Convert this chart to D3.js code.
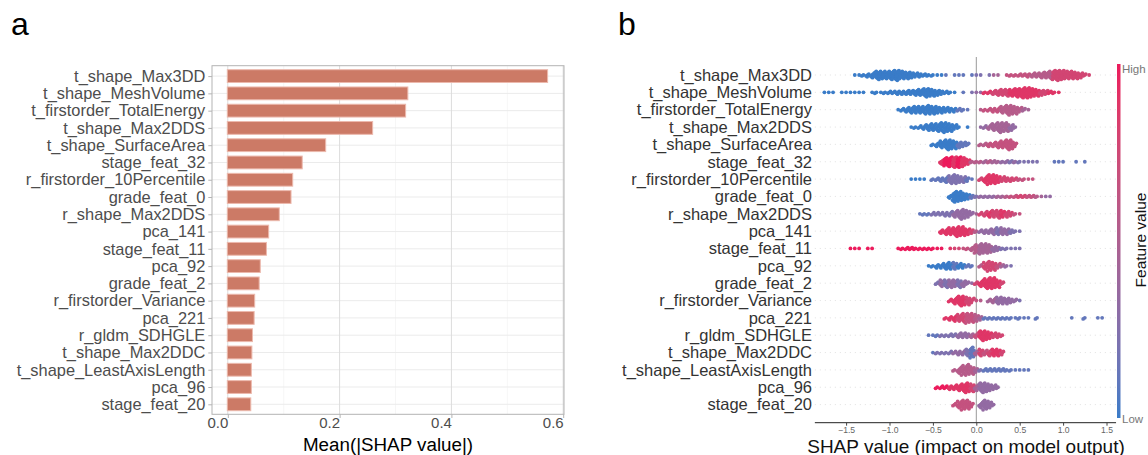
<!DOCTYPE html>
<html>
<head>
<meta charset="utf-8">
<script src="https://cdn.jsdelivr.net/npm/d3@7"></script>
<style>
  body { margin: 0; background: #fff; }
  text { font-family: "Liberation Sans", Arial, sans-serif; }
</style>
</head>
<body>
<svg id="chart" width="1148" height="455"></svg>
<script>
// ---- panel a: mean |SHAP| per feature ----
const barFeatures = ['t_shape_Max3DD', 't_shape_MeshVolume', 't_firstorder_TotalEnergy', 't_shape_Max2DDS',
  't_shape_SurfaceArea', 'stage_feat_32', 'r_firstorder_10Percentile', 'grade_feat_0', 'r_shape_Max2DDS',
  'pca_141', 'stage_feat_11', 'pca_92', 'grade_feat_2', 'r_firstorder_Variance', 'pca_221', 'r_gldm_SDHGLE',
  't_shape_Max2DDC', 't_shape_LeastAxisLength', 'pca_96', 'stage_feat_20'];
const meanAbsShap = [0.573, 0.323, 0.319, 0.260, 0.176, 0.134, 0.117, 0.114, 0.093, 0.074, 0.070, 0.059,
  0.057, 0.049, 0.048, 0.045, 0.044, 0.043, 0.043, 0.042];
const barTicks = [0, 0.2, 0.4, 0.6];
const barMinorTicks = [0.1, 0.3, 0.5];

// ---- panel b: beeswarm, binned counts (bin width 0.05) and feature-value colour per bin (0 low .. 9 high) ----
const swarmFeatures = barFeatures;
const swarmTicks = [-1.5, -1.0, -0.5, 0.0, 0.5, 1.0, 1.5];
const binWidth = 0.05;
const swarmStart = [-1.40, -1.75, -0.90, -0.75, -0.50, -0.40, -0.75, -0.30, -0.65, -0.40,
  -1.45, -0.55, -0.45, -0.30, -0.35, -0.55, -0.50, -0.25, -0.45, -0.25];
const swarmCounts = [
  [1,1,2,4,6,9,10,9,9,11,12,9,8,7,5,4,3,2,2,1,1, 1,0,1,1,1,0,1,1,1,0,1,1,1,0, 1,2,2,3,3,4,5,5,6,7,9,11,12,11,9,9,8,6,3,1],
  [1,1,1,0,1,1,1,1,1,1, 0,1,2,1,2,3,3,4,4,5,5,6,7,9,10,8,6,4,3,2,1,0, 1,0,1,1,1,2,3,5,6,7,8,8,9,10,12,12,10,8,6,5,3,2,1],
  [1,3,5,6,7,7,8,9,8,7,6,5,4,4,3,2,1, 0,0, 1,2,3,4,5,7,9,10,8,5,3,1],
  [1,2,3,5,6,7,8,9,10,8,5,2, 0,1,0,0, 1,3,5,7,9,10,9,6,2],
  [2,4,7,9,10,8,6,5,3, 0,0, 2,3,4,5,6,7,9,10,4],
  [6,11,13,14,14,12,7, 2,2,2,3,3,3,2, 2,3,3,2,2,1,1,1,1, 0,0,0,1,1,1,0,0,1,0,1],
  [1,1,1,1,0,2,3,4,6,8,9,7,6,4,1,0, 3,6,10,9,7,5,4,4,3,2,2,1,1],
  [4,14,13,10,7,4, 2,2,2,2,2,2,2,2, 2,3,3,3,3,3, 2,1,1,1],
  [1,2,2,3,3,3,4,5,6,8,10,7,3,1, 3,5,6,7,8,7,6,4,2,1],
  [4,6,7,8,10,9,6,4,2, 3,4,5,6,7,7,6,4,2,1],
  [1,1,1,0,1,1,0,0,0,0,0,1,2,3,3,2,2,2,2,2,1,1, 0,1,1,1,1,2, 4,10,12,11,10,6, 4,2,2,1,1,1],
  [1,2,4,5,6,7,7,5,4,3,2,0, 3,7,10,8,5,3,2,1],
  [3,7,8,8,7,8,6,3,1, 3,6,9,11,11,8,3],
  [3,6,9,10,8,5,1,1,0, 3,5,7,7,6,4,3,1],
  [2,4,6,7,9,10,9,7, 4, 2,2,2,2,2,2,2,1,2,1,1,0,2,0,0,0,0,0,0,0,1,0,0,2,0,0,1,1],
  [1,1,2,2,2,3,3,5,5,4,4, 5,9,10,7,5,4,2],
  [1,2,2,2,3,3,4,5,7,11, 4,7,5,6,7,7,4],
  [2,6,10,11,8,4, 2,3,3,3,3,3,2,2,1,1,1,1],
  [2,3,3,4,5,6,8,10,8, 6,9,10,7,5,2],
  [3,7,10,9,4, 0, 6,10,7,2]
];
const swarmColors = [
  [0,0,0,0,0,0,0,0,0,0,0,0,0,0,0,0,0,0,0,0,0, 1,1,1,1,1,1,1,2,2,2,2,4,4,4, 6,6,6,6,6,6,5,5,5,5,5,7,7,7,7,7,7,7,7,7],
  [0,0,0,0,0,0,0,0,0,0, 0,0,0,0,0,0,0,0,0,0,0,0,0,0,0,0,0,0,0,0,0,0, 1,1,2,3,3,8,8,7,7,7,7,8,8,8,8,8,8,8,7,7,8,8,8],
  [0,0,0,0,0,0,0,0,0,0,0,0,0,0,1,1,1, 0,0, 5,6,6,6,6,5,5,5,5,5,4,4],
  [0,0,0,0,0,0,0,0,0,0,0,0, 0,0,0,0, 3,3,4,4,4,4,4,3,3],
  [0,0,0,0,0,0,1,1,1, 0,0, 5,5,6,6,6,6,6,6,6],
  [8,9,9,8,9,8,8, 5,5,5,4,5,4,4, 3,3,2,3,2,2,2,2,2, 1,1,1,1,1,1,1,1,1,1,1],
  [0,0,0,0,0,1,1,1,1,2,2,2,2,1,1,0, 7,8,8,8,8,7,7,7,7,6,6,6,6],
  [0,0,0,0,0,1, 2,3,3,3,3,4,4,5, 6,6,7,7,6,6, 5,4,3,3],
  [1,1,1,2,2,2,2,2,3,3,3,3,3,4, 7,7,8,7,7,8,7,7,6,6],
  [8,8,8,8,8,8,8,7,5, 3,3,3,3,2,3,3,2,2,2],
  [9,9,9,9,9,9,9,9,9,9,9,9,9,9,9,9,9,9,9,9,9,9, 8,8,7,7,6,6, 5,5,4,4,4,3, 3,2,2,2,2,2],
  [0,0,0,0,0,0,1,0,0,1,1,0, 5,7,7,7,6,4,3,2],
  [2,3,2,3,3,2,3,3,3, 7,8,8,8,8,8,7],
  [8,8,8,8,7,7,6,5,0, 4,4,3,3,3,3,3,2],
  [8,8,8,7,7,6,6,5, 4, 1,1,1,1,1,1,1,1,1,1,1,1,1,1,1,1,1,1,1,1,1,1,1,1,1,1,1,1],
  [1,1,1,2,2,2,2,3,3,3,4, 6,8,8,8,7,7,7],
  [1,2,2,2,2,3,3,3,2,1, 4,7,6,7,8,8,7],
  [5,5,5,5,5,4, 2,1,1,1,1,1,1,1,1,1,1,1],
  [9,9,9,8,8,8,8,8,7, 4,3,3,3,3,3],
  [6,6,6,6,6, 0, 3,3,3,3]
];

const svg = d3.select('#chart');
svg.append('rect').attr('width', 1148).attr('height', 455).attr('fill', '#fff');

// ================= panel a =================
const panelA = { left: 212, right: 564, top: 65.7, bottom: 414.3 };
const xBar = d3.scaleLinear().domain([0, 0.6]).range([227.8, 563.2]);
const yBar = d3.scalePoint().domain(barFeatures).range([76.1, 404.3]);

const gA = svg.append('g');

gA.selectAll('.minor')
  .data(barMinorTicks)
  .enter().append('line')
  .attr('x1', d => xBar(d)).attr('x2', d => xBar(d))
  .attr('y1', panelA.top).attr('y2', panelA.bottom)
  .attr('stroke', '#f0f0f0').attr('stroke-width', 0.6);

gA.selectAll('.hgrid')
  .data(barFeatures)
  .enter().append('line')
  .attr('x1', panelA.left).attr('x2', panelA.right)
  .attr('y1', d => yBar(d)).attr('y2', d => yBar(d))
  .attr('stroke', '#ebebeb').attr('stroke-width', 1);

gA.selectAll('.vgrid')
  .data(barTicks)
  .enter().append('line')
  .attr('x1', d => xBar(d)).attr('x2', d => xBar(d))
  .attr('y1', panelA.top).attr('y2', panelA.bottom)
  .attr('stroke', '#dcdcdc').attr('stroke-width', 1);

const barH = 12.8;
gA.selectAll('.bar')
  .data(barFeatures.map((f, i) => ({ name: f, value: meanAbsShap[i] })))
  .enter().append('rect')
  .attr('x', xBar(0) - 0.5)
  .attr('y', d => yBar(d.name) - barH / 2)
  .attr('width', d => xBar(d.value) - xBar(0))
  .attr('height', barH)
  .attr('fill', '#cc7a66')
  .attr('stroke', '#ecb9ad')
  .attr('stroke-width', 1);

gA.append('rect')
  .attr('x', panelA.left).attr('y', panelA.top)
  .attr('width', panelA.right - panelA.left).attr('height', panelA.bottom - panelA.top)
  .attr('fill', 'none').attr('stroke', '#b3b3b3').attr('stroke-width', 1);

const axA_y = gA.append('g')
  .attr('transform', `translate(${panelA.left},0)`)
  .call(d3.axisLeft(yBar).tickSize(3.7).tickPadding(3));
axA_y.select('.domain').remove();
axA_y.selectAll('line').attr('stroke', '#b3b3b3');
axA_y.selectAll('text').attr('fill', '#4d4d4d').attr('font-size', 16.4).attr('font-family', '"Liberation Sans", Arial, sans-serif');

const axA_x = gA.append('g')
  .attr('transform', `translate(0,${panelA.bottom})`)
  .call(d3.axisBottom(xBar).tickValues(barTicks).tickFormat(d3.format('.1f')).tickSize(3.7));
axA_x.select('.domain').remove();
axA_x.selectAll('line').attr('stroke', '#b3b3b3');
axA_x.selectAll('text')
  .attr('fill', '#4d4d4d').attr('font-size', 15).attr('font-family', '"Liberation Sans", Arial, sans-serif')
  .attr('text-anchor', 'end').attr('x', 0).attr('y', 3.4).attr('dy', '0.71em');

gA.append('text')
  .attr('x', (panelA.left + panelA.right) / 2).attr('y', 451)
  .attr('text-anchor', 'middle').attr('font-size', 18.8).attr('fill', '#000')
  .text('Mean(|SHAP value|)');

svg.append('text').attr('x', 11).attr('y', 35).attr('font-size', 32).attr('fill', '#000').text('a');

// ================= panel b =================
const gB = svg.append('g');
const xS = d3.scaleLinear().domain([-1.5, 1.5]).range([846.1, 1106.5]);
const xLim = [-1.86, 1.61];
const yS = d3.scalePoint().domain(swarmFeatures).range([75, 404.6]);
const rowStep = yS.step();
const axisY = 422.7;

const blue = '#3a7cc8', red = '#ec1b5c';
const fcol = d3.scaleLinear().domain([0, 1]).range([blue, red]).interpolate(d3.interpolateLab);

gB.selectAll('.rowline')
  .data(swarmFeatures)
  .enter().append('line')
  .attr('x1', xS(xLim[0])).attr('x2', xS(xLim[1]))
  .attr('y1', d => yS(d)).attr('y2', d => yS(d))
  .attr('stroke', '#cccccc').attr('stroke-width', 0.6).attr('stroke-dasharray', '1,4');

gB.append('line')
  .attr('x1', xS(0)).attr('x2', xS(0)).attr('y1', 57).attr('y2', axisY)
  .attr('stroke', '#999').attr('stroke-width', 1);

// stack points per bin (up/down alternating), like the shap beeswarm
const dots = [];
swarmFeatures.forEach((f, i) => {
  const counts = swarmCounts[i], cols = swarmColors[i], s = swarmStart[i];
  const maxLayer = Math.ceil((d3.max(counts) - 1) / 2);
  const k = 0.36 * rowStep / (maxLayer + 1);
  counts.forEach((c, j) => {
    for (let l = 0; l < c; l++) {
      const off = ((l * 0.618 + 0.5) % 1) - 0.5;
      dots.push({
        x: xS(s + j * binWidth + off * binWidth),
        y: yS(f) + Math.ceil(l / 2) * ((l % 2) * 2 - 1) * k,
        c: fcol(cols[j] / 9)
      });
    }
  });
});

gB.selectAll('.dot')
  .data(dots)
  .enter().append('circle')
  .attr('cx', d => d.x).attr('cy', d => d.y).attr('r', 1.9)
  .attr('fill', d => d.c);

gB.selectAll('.rowlabel')
  .data(swarmFeatures)
  .enter().append('text')
  .attr('x', 812).attr('y', d => yS(d)).attr('dy', '0.35em')
  .attr('text-anchor', 'end').attr('font-size', 16.5).attr('fill', '#333')
  .text(d => d);

const axB = gB.append('g')
  .attr('transform', `translate(0,${axisY})`)
  .call(d3.axisBottom(xS).tickValues(swarmTicks).tickFormat(d => d3.format('.1f')(d).replace('-', '\u2212')).tickSize(3).tickPadding(1.5));
axB.select('.domain').attr('d', `M${xS(xLim[0])},0H${xS(xLim[1])}`).attr('stroke', '#222');
axB.selectAll('line').attr('stroke', '#444');
axB.selectAll('text').attr('fill', '#666').attr('font-size', 8.6).attr('font-family', '"DejaVu Sans", sans-serif');

gB.append('text')
  .attr('x', 966).attr('y', 452.5).attr('text-anchor', 'middle')
  .attr('font-size', 19).attr('fill', '#111')
  .text('SHAP value (impact on model output)');

// colour bar
const grad = svg.append('defs').append('linearGradient')
  .attr('id', 'fv').attr('x1', 0).attr('x2', 0).attr('y1', 0).attr('y2', 1);
d3.range(0, 1.0001, 0.1).forEach(t => {
  grad.append('stop').attr('offset', t).attr('stop-color', fcol(1 - t));
});
gB.append('rect').attr('x', 1117).attr('y', 64).attr('width', 3.5).attr('height', 354).attr('fill', 'url(#fv)');
gB.append('text').attr('x', 1122).attr('y', 69).attr('dy', '0.35em').attr('font-size', 11.5).attr('fill', '#777').text('High');
gB.append('text').attr('x', 1122).attr('y', 419).attr('dy', '0.35em').attr('font-size', 11.5).attr('fill', '#777').text('Low');
gB.append('text')
  .attr('transform', 'translate(1145.5,240) rotate(-90)')
  .attr('text-anchor', 'middle').attr('font-size', 15.5).attr('fill', '#111')
  .text('Feature value');

svg.append('text').attr('x', 618).attr('y', 35).attr('font-size', 32).attr('fill', '#000').text('b');
</script>
</body>
</html>
